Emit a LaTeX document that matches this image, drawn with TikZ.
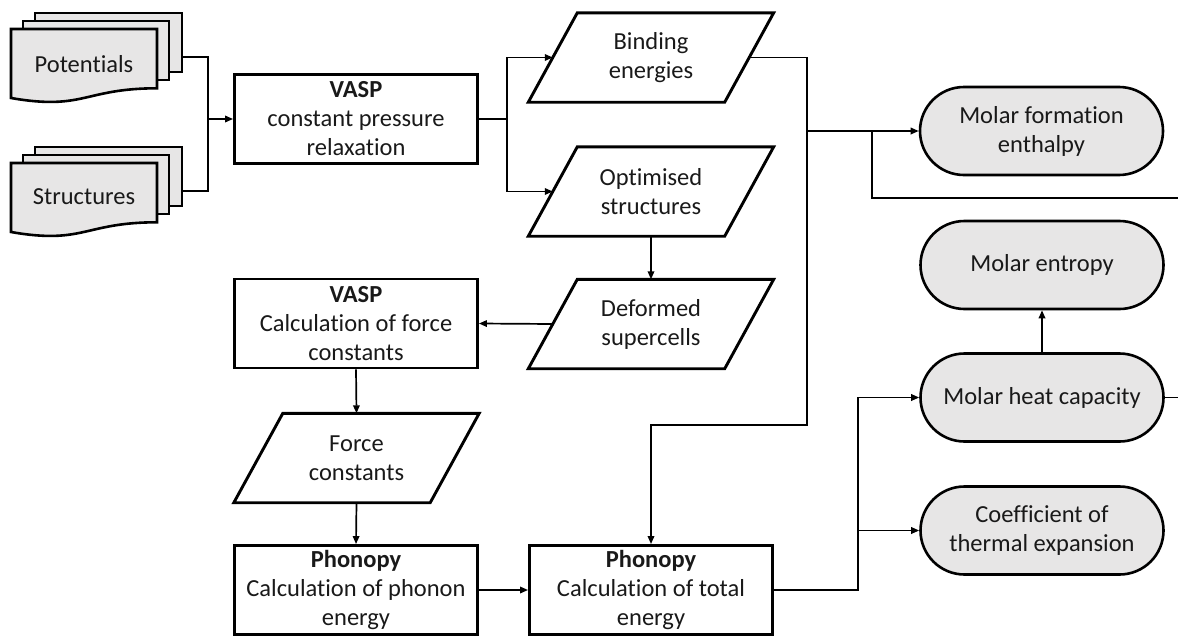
\documentclass[tikz,border=0pt]{standalone}
\usepackage{fontspec}
\setmainfont{Carlito}[Ligatures={NoCommon}]
\usetikzlibrary{shapes.misc,arrows.meta,calc}
\definecolor{shapefill}{HTML}{E7E6E6}
\tikzset{
  txt/.style={font=\fontsize{24.5}{29}\selectfont, text=black!90, align=center},
  procbox/.style={txt, draw, line width=2.9pt, rectangle, minimum width=243pt, minimum height=89pt, inner sep=0pt},
  paratext/.style={txt, rectangle, minimum width=196pt, minimum height=89pt, inner sep=0pt},
  paraline/.style={draw, line width=2.9pt, line join=miter},
  result/.style={txt, draw, line width=2.6pt, rounded rectangle, fill=shapefill, minimum width=243pt, minimum height=88pt, inner sep=0pt},
  docline/.style={draw, line width=2.6pt, fill=shapefill, line join=miter},
  conn/.style={line width=1.7pt},
  arr/.style={-{Triangle[length=8pt,width=6.5pt]}},
}
\begin{document}
\begin{tikzpicture}[x=1pt,y=-1pt]
\useasboundingbox (0,0) rectangle (1178,637);

% ---- multi-documents ----
\foreach \dy in {0,134}{
  \begin{scope}[yshift=-\dy pt]
    \path[docline] (35,13) rectangle (182,72);
    \path[docline] (23,21) rectangle (169,80);
    \path[docline] (11,29) -- (157,29) -- (157,88.3) .. controls (84,88.3) and (84,110.8) .. (11,98) -- cycle;
  \end{scope}
}
\node[txt] (pot) at (84,64) {Potentials};
\node[txt] (str) at (84,197) {Structures};
\coordinate (potR) at (182,57);
\coordinate (strR) at (182,191);
\coordinate (j1) at (208,119);

% ---- process boxes ----
\node[procbox] (vasp1) at (356,119) {\textbf{VASP}\\constant pressure\\relaxation};
\node[procbox] (vasp2) at (356,323.5) {\textbf{VASP}\\Calculation of force\\constants};
\node[procbox] (phon) at (356,590) {\textbf{Phonopy}\\Calculation of phonon\\energy};
\node[procbox] (total) at (651,590) {\textbf{Phonopy}\\Calculation of total\\energy};

% ---- data parallelograms ----
\node[paratext] (bind) at (651,57.5) {Binding\\energies};
\node[paratext] (opt) at (651,191.5) {Optimised\\structures};
\node[paratext] (deform) at (651,324) {Deformed\\supercells};
\node[paratext] (force) at (356.5,458) {Force\\constants};
\foreach \n in {bind,opt,deform,force}{
  \path[paraline] ([xshift=-24.5pt]\n.south west) -- ([xshift=24.5pt]\n.north west)
     -- ([xshift=24.5pt]\n.north east) -- ([xshift=-24.5pt]\n.south east) -- cycle;
}

% ---- results ----
\node[result] (enth) at (1041.5,131) {Molar formation\\enthalpy};
\node[result] (entr) at (1042,265) {Molar entropy};
\node[result] (heat) at (1042,397.5) {Molar heat capacity};
\node[result] (coef) at (1042,530.5) {Coefficient of\\thermal expansion};

% ---- connector helper points ----
\coordinate (j2) at (507,119);
\coordinate (c1) at (807,425);
\coordinate (c2) at (807,131);
\coordinate (c3) at (872,131);
\coordinate (eout) at (1178,198);
\coordinate (c4) at (858,590);
\coordinate (c5) at (858,530.5);
\coordinate (hout) at (1178,397.5);

% ---- connectors ----
\draw[conn] (potR) -| (j1);
\draw[conn] (strR) -| (j1);
\draw[conn,arr] (j1) -- (vasp1.west);
\draw[conn] (vasp1.east) -- (j2);
\draw[conn,arr] (j2) |- (bind.west);
\draw[conn,arr] (j2) |- (opt.west);
\draw[conn,arr] (bind.east) -| (c1) -| (total.north);
\draw[conn,arr] (c2) -- (enth.west);
\draw[conn] (c3) |- (eout);
\draw[conn,arr] (opt.south) -- (deform.north);
\draw[conn,arr] (deform.west) -- (vasp2.east);
\draw[conn,arr] (vasp2.south) -- (force.north);
\draw[conn,arr] (force.south) -- (phon.north);
\draw[conn,arr] (phon.east) -- (total.west);
\draw[conn,arr] (total.east) -- (c4) |- (heat.west);
\draw[conn,arr] (c5) -- (coef.west);
\draw[conn,arr] (heat.north) -- (entr.south);
\draw[conn] (heat.east) -- (hout);
\end{tikzpicture}
\end{document}
